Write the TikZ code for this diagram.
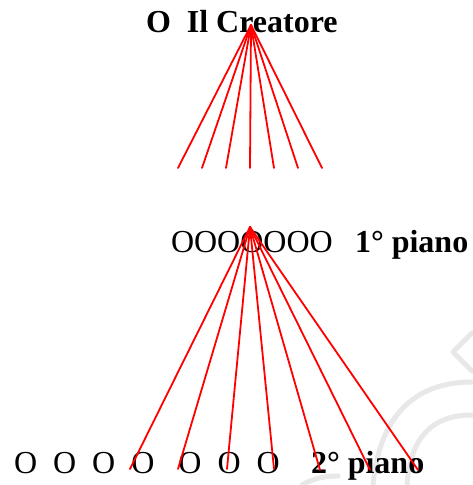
\documentclass[tikz,border=0pt]{standalone}
\usepackage{fontspec}
\setmainfont{Liberation Serif}
\begin{document}
\begin{tikzpicture}[x=1pt,y=1pt,
  fanLine/.style={draw=drawColor,line width=1.8pt,line cap=round},
  markLine/.style={draw=markColor,line width=5pt,line cap=round,line join=round},
  textNode/.style={text=textColor,anchor=base west,inner sep=0pt,outer sep=0pt,font=\fontsize{32}{38}\selectfont},
  boldNode/.style={textNode,font=\fontsize{32}{38}\selectfont\bfseries}]
\definecolor{fillColor}{RGB}{255,255,255}
\path[use as bounding box,fill=fillColor] (0,0) rectangle (472,485);
\definecolor{markColor}{RGB}{232,232,232}

% faint mark in the corner
\path[markLine] (373,  0) .. controls (380, 75) and (420,103) .. (472,103);

\path[markLine] (407,  0) .. controls (410, 45) and (430, 70) .. (472, 70);

\path[markLine] (472,152) -- (453,133) -- (472,114);

\path[markLine] (302,  0) .. controls (312,  6) and (324,  9) .. (338,  9);

\definecolor{textColor}{RGB}{0,0,0}

\node[boldNode] (creator) at (146,452) {O\ \ Il Creatore};

\node[textNode] (row1) at (171,232) {OOOOOOO};

\node[boldNode] (lab1) at (355,232) {1° piano};

\node[textNode] (row2) at ( 14, 12) {O\ \ O\ \ O\ \ O\ \ \ O\ \ O\ \ O};

\node[boldNode] (lab2) at (311, 12) {2° piano};

\definecolor{drawColor}{RGB}{255,0,0}

% first fan
\coordinate (apexTop) at (251,460);
\coordinate (t1) at (178,317);
\coordinate (t2) at (202,317);
\coordinate (t3) at (226,317);
\coordinate (t4) at (250,317);
\coordinate (t5) at (274,317);
\coordinate (t6) at (298,317);
\coordinate (t7) at (322,317);

\path[fanLine] (apexTop) -- (t1);
\path[fanLine] (apexTop) -- (t2);
\path[fanLine] (apexTop) -- (t3);
\path[fanLine] (apexTop) -- (t4);
\path[fanLine] (apexTop) -- (t5);
\path[fanLine] (apexTop) -- (t6);
\path[fanLine] (apexTop) -- (t7);

% second fan
\coordinate (apexMid) at (250,258);
\coordinate (b1) at (130, 16);
\coordinate (b2) at (178, 16);
\coordinate (b3) at (227, 16);
\coordinate (b4) at (274, 16);
\coordinate (b5) at (320, 15);
\coordinate (b6) at (370, 15);
\coordinate (b7) at (418, 15);

\path[fanLine] (apexMid) -- (b1);
\path[fanLine] (apexMid) -- (b2);
\path[fanLine] (apexMid) -- (b3);
\path[fanLine] (apexMid) -- (b4);
\path[fanLine] (apexMid) -- (b5);
\path[fanLine] (apexMid) -- (b6);
\path[fanLine] (apexMid) -- (b7);
\end{tikzpicture}
\end{document}
